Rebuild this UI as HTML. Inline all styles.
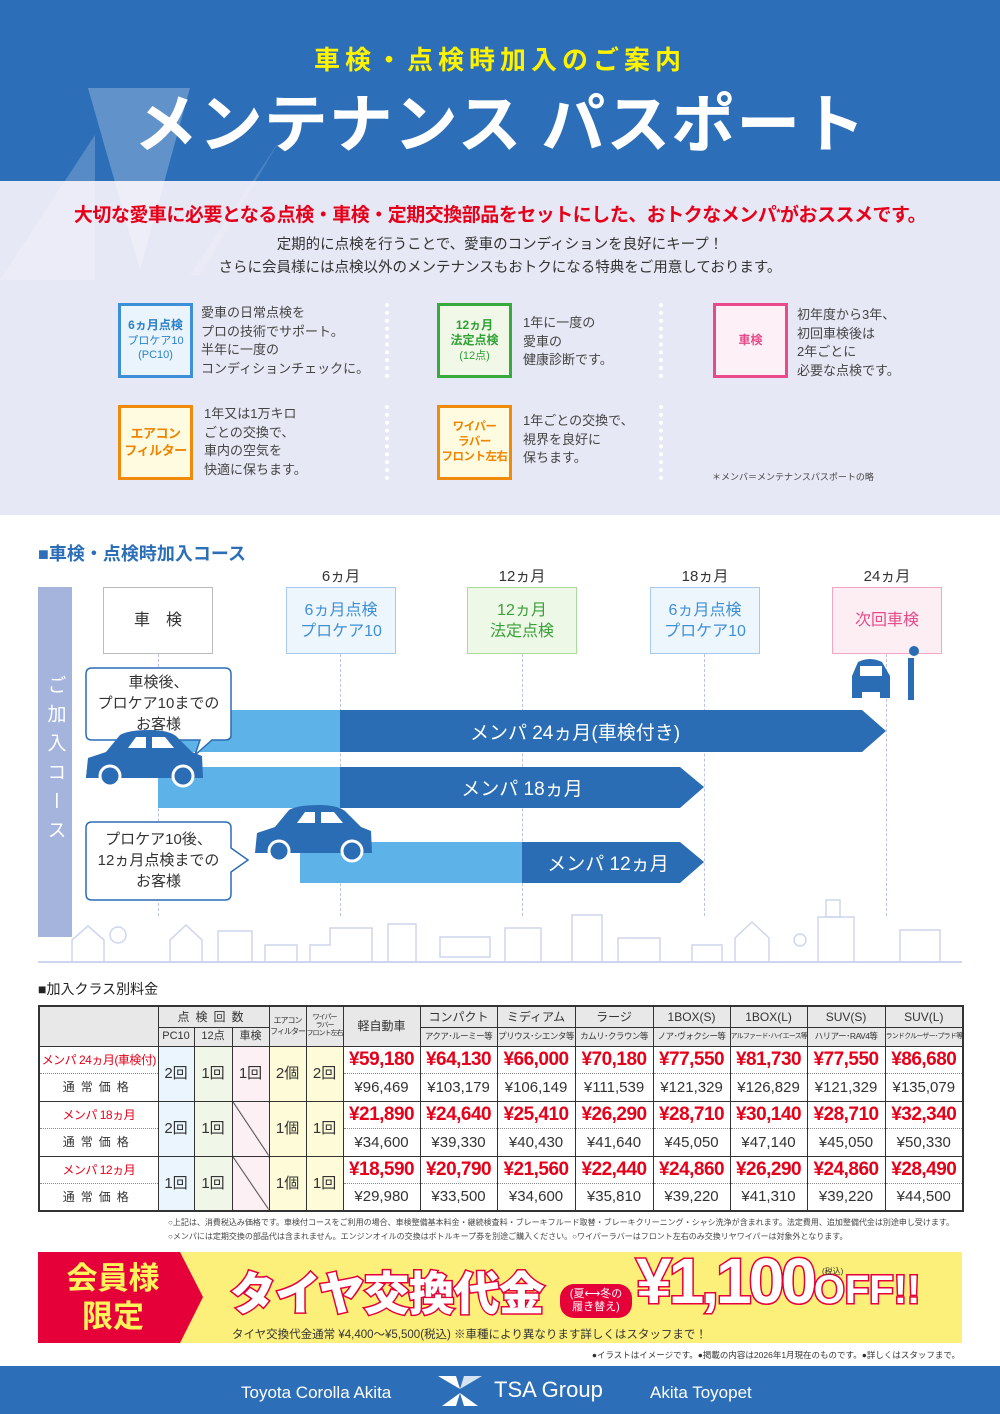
<!DOCTYPE html>
<html><head><meta charset="utf-8">
<style>
*{margin:0;padding:0;box-sizing:border-box}
body{width:1000px;height:1414px;position:relative;background:#fff;font-family:"Liberation Sans","Noto Sans CJK JP",sans-serif;color:#333;overflow:hidden}
.a{position:absolute}
.c{display:flex;align-items:center;justify-content:center;text-align:center}
.ib{position:absolute;width:75px;height:75px;border:3px solid;display:flex;align-items:center;justify-content:center;text-align:center;font-weight:bold;font-size:12px;line-height:1.3;white-space:nowrap;flex-direction:column}
.it{position:absolute;font-size:13px;line-height:18.5px;color:#444;white-space:nowrap}
.dots{position:absolute;width:0;border-left:4px dotted #fff}
.mb{position:absolute;top:587px;width:110px;height:67px;border:1.5px solid;font-size:16px;line-height:21px}
.ml{position:absolute;top:565px;width:110px;text-align:center;font-size:15px;color:#333}
.dl{position:absolute;top:654px;height:262px;border-left:1px dashed #b8c4e0}
table{border-collapse:collapse;position:absolute;left:38px;top:1005px;width:924px;table-layout:fixed;border:2.5px solid #333}
td{border:1.5px solid #333;text-align:center;padding:0;font-size:11px;white-space:nowrap;overflow:hidden;line-height:1}
.hd{background:#e8e8e8;color:#333}
.pr{color:#e60019;font-weight:bold;font-size:19px;border-bottom:1px dotted #888;letter-spacing:-0.5px}
.np{font-size:15px;color:#333;border-top:1px dotted #888}
.lab1{color:#e60019;font-size:12px;letter-spacing:-0.5px;border-bottom:1px dotted #888}
.lab2{font-size:12px;letter-spacing:6px;border-top:1px dotted #888}
.cnt{font-size:15px}
.r1{height:27px}.r2{height:28px}
</style></head><body>

<div class="a" style="left:0;top:0;width:1000px;height:181px;background:#2c6fb8"></div>
<div class="a" style="left:0;top:181px;width:1000px;height:334px;background:#e7e8f5"></div>
<svg class="a" style="left:0;top:80px" width="300" height="200">
<polygon points="88,8 190,8 140,190" fill="#fff" opacity="0.25"/>
<polygon points="0,200 95,55 95,200" fill="#fff" opacity="0.2"/>
<polygon points="190,195 280,60 200,195" fill="#fff" opacity="0.15"/>
</svg>
<div class="a c" style="left:0;top:38px;width:1000px;height:40px;color:#fff200;font-size:26px;font-weight:bold;letter-spacing:5px">車検・点検時加入のご案内</div>
<div class="a c" style="left:0;top:80px;width:1000px;height:80px;color:#fff;font-size:64px;font-weight:bold;letter-spacing:1px">メンテナンス パスポート</div>
<div class="a c" style="left:0;top:199px;width:1000px;height:28px;color:#e60019;font-size:19px;font-weight:bold;letter-spacing:-0.5px">大切な愛車に必要となる点検・車検・定期交換部品をセットにした、おトクなメンパ<sup style="font-size:11px">*</sup>がおススメです。</div>
<div class="a" style="left:0;top:234px;width:1000px;text-align:center;font-size:14.5px;line-height:23px;color:#333">定期的に点検を行うことで、愛車のコンディションを良好にキープ！<br>さらに会員様には点検以外のメンテナンスもおトクになる特典をご用意しております。</div>

<div class="ib" style="left:118px;top:303px;border-color:#3d8fd8;background:#eaf4fc;color:#2c80c8"><div>6ヵ月点検</div><div style="font-weight:normal;font-size:11px">プロケア10<br>(PC10)</div></div>
<div class="it" style="left:201px;top:304px">愛車の日常点検を<br>プロの技術でサポート。<br>半年に一度の<br>コンディションチェックに。</div>
<div class="ib" style="left:437px;top:303px;border-color:#36aa3c;background:#f1f8e8;color:#2fa035"><div>12ヵ月<br>法定点検</div><div style="font-weight:normal;font-size:11px">(12点)</div></div>
<div class="it" style="left:523px;top:314px">1年に一度の<br>愛車の<br>健康診断です。</div>
<div class="ib" style="left:713px;top:303px;border-color:#e84a8a;background:#fdf0f6;color:#e64a8a">車検</div>
<div class="it" style="left:797px;top:306px">初年度から3年、<br>初回車検後は<br>2年ごとに<br>必要な点検です。</div>
<div class="ib" style="left:118px;top:405px;border-color:#f08a0a;background:#fffbe0;color:#ef8400;font-size:13px;letter-spacing:-0.5px">エアコン<br>フィルター</div>
<div class="it" style="left:204px;top:405px">1年又は1万キロ<br>ごとの交換で、<br>車内の空気を<br>快適に保ちます。</div>
<div class="ib" style="left:437px;top:405px;border-color:#f08a0a;background:#fffbe0;color:#ef8400;font-size:11.5px;letter-spacing:-0.5px">ワイパー<br>ラバー<br>フロント左右</div>
<div class="it" style="left:523px;top:412px">1年ごとの交換で、<br>視界を良好に<br>保ちます。</div>
<div class="dots" style="left:385px;top:303px;height:75px"></div>
<div class="dots" style="left:385px;top:405px;height:75px"></div>
<div class="dots" style="left:659px;top:303px;height:75px"></div>
<div class="dots" style="left:659px;top:405px;height:75px"></div>
<div class="a" style="left:712px;top:470px;font-size:9px;color:#444">＊メンバ＝メンテナンスパスポートの略</div>

<div class="a" style="left:38px;top:540px;font-size:18px;font-weight:bold;color:#2c6fb8">■車検・点検時加入コース</div>
<div class="a c" style="left:38px;top:587px;width:34px;height:350px;background:#a4b4dc;color:#fff;font-size:19px;writing-mode:vertical-rl;letter-spacing:10px">ご加入コース</div>
<div class="ml" style="left:286px">6ヵ月</div>
<div class="ml" style="left:467px">12ヵ月</div>
<div class="ml" style="left:650px">18ヵ月</div>
<div class="ml" style="left:832px">24ヵ月</div>
<div class="dl" style="left:158px"></div><div class="dl" style="left:340px"></div><div class="dl" style="left:522px"></div><div class="dl" style="left:704px"></div><div class="dl" style="left:886px"></div>
<div class="mb c" style="left:103px;border-color:#bbb;background:#fff;color:#333">車　検</div>
<div class="mb c" style="left:286px;border-color:#a8c8ec;background:#eef6fd;color:#3f8fd6">6ヵ月点検<br>プロケア10</div>
<div class="mb c" style="left:467px;border-color:#a8dc98;background:#eef8e6;color:#3aa03a">12ヵ月<br>法定点検</div>
<div class="mb c" style="left:650px;border-color:#a8c8ec;background:#eef6fd;color:#3f8fd6">6ヵ月点検<br>プロケア10</div>
<div class="mb c" style="left:832px;border-color:#f3a6c4;background:#fdeef4;color:#e64a8a">次回車検</div>

<svg class="a" style="left:0;top:0" width="1000" height="1000">
<rect x="158" y="710" width="182" height="42" fill="#5db3e8"/>
<polygon points="340,710 862,710 886,731 862,752 340,752" fill="#2a6db5"/>
<rect x="158" y="767" width="182" height="41" fill="#5db3e8"/>
<polygon points="340,767 680,767 704,787 680,808 340,808" fill="#2a6db5"/>
<rect x="300" y="842" width="222" height="41" fill="#5db3e8"/>
<polygon points="522,842 680,842 704,862 680,883 522,883" fill="#2a6db5"/>
<text x="575" y="739" font-size="19" fill="#fff" text-anchor="middle" font-family="Liberation Sans,Noto Sans CJK JP,sans-serif">メンパ 24ヵ月(車検付き)</text>
<text x="522" y="795" font-size="19" fill="#fff" text-anchor="middle" font-family="Liberation Sans,Noto Sans CJK JP,sans-serif">メンパ 18ヵ月</text>
<text x="608" y="870" font-size="19" fill="#fff" text-anchor="middle" font-family="Liberation Sans,Noto Sans CJK JP,sans-serif">メンパ 12ヵ月</text>
<path d="M92,668 H225 Q231,668 231,674 V735 Q231,740 225,740 H212 L195,755 L200,740 H92 Q86,740 86,734 V674 Q86,668 92,668Z" fill="#fff" stroke="#2a6db5" stroke-width="1.5"/>
<path d="M92,822 H225 Q231,822 231,828 V848 L248,860 L231,872 V894 Q231,900 225,900 H92 Q86,900 86,894 V828 Q86,822 92,822Z" fill="#fff" stroke="#2a6db5" stroke-width="1.5"/>
<g fill="#2a6db5">
<path d="M86,778 L88,760 L108,752 L122,736 Q130,746 150,746 Q168,746 176,752 L190,760 L202,764 L203,778 Z"/>
<path d="M86,778 L88,758 L106,752 L120,735 Q128,730 150,730 Q168,730 176,736 L192,752 L202,756 L203,778 Z"/>
<path d="M255,853 L257,833 L275,827 L289,810 Q297,805 319,805 Q337,805 345,811 L361,827 L371,831 L372,853 Z"/>
<path d="M852,698 V676 L858,662 Q870,656 882,662 L890,676 V698 H880 V692 H862 V698Z"/>
<rect x="908" y="658" width="6" height="42"/>
<circle cx="914" cy="651" r="5"/>
</g>
<g fill="#fff"><path d="M128,748 L136,737 H146 V748Z"/><path d="M152,737 H165 L174,748 H152Z"/>
<path d="M297,823 L305,812 H315 V823Z"/><path d="M321,812 H334 L343,823 H321Z"/>
<rect x="860" y="666" width="22" height="10"/></g>
<g fill="#2a6db5" stroke="#fff" stroke-width="3"><circle cx="110" cy="776" r="10"/><circle cx="183" cy="776" r="10"/><circle cx="279" cy="851" r="10"/><circle cx="352" cy="851" r="10"/></g>
<g fill="none" stroke="#cdd6ee" stroke-width="1.5">
<path d="M72,962 V940 L88,926 L104,940 V962"/><path d="M170,962 V940 L186,925 L202,940 V962"/>
<rect x="218" y="931" width="34" height="31"/><rect x="265" y="945" width="32" height="17"/>
<path d="M310,962 V945 H330 V928 H372 V962"/><rect x="388" y="924" width="28" height="38"/>
<rect x="440" y="937" width="50" height="20"/><rect x="505" y="928" width="36" height="34"/>
<rect x="572" y="915" width="30" height="47"/><path d="M618,962 V938 H660 V962"/>
<rect x="692" y="945" width="30" height="17"/><path d="M735,962 V938 L752,922 L769,938 V962"/>
<rect x="818" y="917" width="36" height="45"/><rect x="826" y="900" width="14" height="17"/>
<rect x="900" y="930" width="40" height="32"/><circle cx="118" cy="935" r="8"/><circle cx="800" cy="940" r="6"/>
</g>
<line x1="38" y1="962" x2="962" y2="962" stroke="#cdd6ee" stroke-width="2"/>
</svg>
<div class="a" style="left:86px;top:672px;width:145px;text-align:center;font-size:15px;line-height:21px;color:#333">車検後、<br>プロケア10までの<br>お客様</div>
<div class="a" style="left:86px;top:829px;width:145px;text-align:center;font-size:15px;line-height:21px;color:#333">プロケア10後、<br>12ヵ月点検までの<br>お客様</div>

<div class="a" style="left:38px;top:979px;font-size:14px;color:#222">■加入クラス別料金</div>
<table>
<colgroup><col style="width:119px"><col style="width:36px"><col style="width:38px"><col style="width:37px"><col style="width:37px"><col style="width:37px"><col style="width:77px"><col style="width:77px"><col style="width:78px"><col style="width:78px"><col style="width:77px"><col style="width:77px"><col style="width:78px"><col style="width:78px"></colgroup>
<tr style="height:21px"><td class="hd" rowspan="2"></td><td class="hd" colspan="3" style="font-size:12px;letter-spacing:6px">点検回数</td><td class="hd" rowspan="2" style="font-size:8px;line-height:11px;letter-spacing:-1px">エアコン<br>フィルター</td><td class="hd" rowspan="2" style="font-size:7px;line-height:8px;letter-spacing:-1px">ワイパー<br>ラバー<br>フロント左右</td><td class="hd" rowspan="2" style="font-size:12px">軽自動車</td><td class="hd" style="font-size:12px">コンパクト</td><td class="hd" style="font-size:12px">ミディアム</td><td class="hd" style="font-size:12px">ラージ</td><td class="hd" style="font-size:12px">1BOX(S)</td><td class="hd" style="font-size:12px">1BOX(L)</td><td class="hd" style="font-size:12px">SUV(S)</td><td class="hd" style="font-size:12px">SUV(L)</td></tr>
<tr style="height:19px"><td class="hd">PC10</td><td class="hd">12点</td><td class="hd">車検</td><td class="hd" style="font-size:8.5px;letter-spacing:-0.5px">アクア･ルーミー等</td><td class="hd" style="font-size:8.5px;letter-spacing:-0.5px">プリウス･シエンタ等</td><td class="hd" style="font-size:8.5px;letter-spacing:-0.5px">カムリ･クラウン等</td><td class="hd" style="font-size:8.5px;letter-spacing:-0.5px">ノア･ヴォクシー等</td><td class="hd" style="font-size:7px;letter-spacing:-0.8px">アルファード･ハイエース等</td><td class="hd" style="font-size:8.5px;letter-spacing:-0.5px">ハリアー･RAV4等</td><td class="hd" style="font-size:7px;letter-spacing:-0.8px">ランドクルーザー･プラド等</td></tr>
<tr class="r1"><td class="lab1">メンパ 24ヵ月(車検付)</td><td rowspan="2" class="cnt" style="background:#eaf5fd">2回</td><td rowspan="2" class="cnt" style="background:#f1f7e8">1回</td><td rowspan="2" class="cnt" style="background:#fdf0f5">1回</td><td rowspan="2" class="cnt" style="background:#fdfbd8">2個</td><td rowspan="2" class="cnt" style="background:#fdfbd8">2回</td><td class="pr">¥59,180</td><td class="pr">¥64,130</td><td class="pr">¥66,000</td><td class="pr">¥70,180</td><td class="pr">¥77,550</td><td class="pr">¥81,730</td><td class="pr">¥77,550</td><td class="pr">¥86,680</td></tr>
<tr class="r2"><td class="lab2">通常価格</td><td class="np">¥96,469</td><td class="np">¥103,179</td><td class="np">¥106,149</td><td class="np">¥111,539</td><td class="np">¥121,329</td><td class="np">¥126,829</td><td class="np">¥121,329</td><td class="np">¥135,079</td></tr>
<tr class="r1"><td class="lab1">メンパ 18ヵ月</td><td rowspan="2" class="cnt" style="background:#eaf5fd">2回</td><td rowspan="2" class="cnt" style="background:#f1f7e8">1回</td><td rowspan="2" style="background:linear-gradient(to top right,#fdf0f5 49%,#333 50%,#fdf0f5 52%)"></td><td rowspan="2" class="cnt" style="background:#fdfbd8">1個</td><td rowspan="2" class="cnt" style="background:#fdfbd8">1回</td><td class="pr">¥21,890</td><td class="pr">¥24,640</td><td class="pr">¥25,410</td><td class="pr">¥26,290</td><td class="pr">¥28,710</td><td class="pr">¥30,140</td><td class="pr">¥28,710</td><td class="pr">¥32,340</td></tr>
<tr class="r2"><td class="lab2">通常価格</td><td class="np">¥34,600</td><td class="np">¥39,330</td><td class="np">¥40,430</td><td class="np">¥41,640</td><td class="np">¥45,050</td><td class="np">¥47,140</td><td class="np">¥45,050</td><td class="np">¥50,330</td></tr>
<tr class="r1"><td class="lab1">メンパ 12ヵ月</td><td rowspan="2" class="cnt" style="background:#eaf5fd">1回</td><td rowspan="2" class="cnt" style="background:#f1f7e8">1回</td><td rowspan="2" style="background:linear-gradient(to top right,#fdf0f5 49%,#333 50%,#fdf0f5 52%)"></td><td rowspan="2" class="cnt" style="background:#fdfbd8">1個</td><td rowspan="2" class="cnt" style="background:#fdfbd8">1回</td><td class="pr">¥18,590</td><td class="pr">¥20,790</td><td class="pr">¥21,560</td><td class="pr">¥22,440</td><td class="pr">¥24,860</td><td class="pr">¥26,290</td><td class="pr">¥24,860</td><td class="pr">¥28,490</td></tr>
<tr class="r2"><td class="lab2">通常価格</td><td class="np">¥29,980</td><td class="np">¥33,500</td><td class="np">¥34,600</td><td class="np">¥35,810</td><td class="np">¥39,220</td><td class="np">¥41,310</td><td class="np">¥39,220</td><td class="np">¥44,500</td></tr>
</table>
<div class="a" style="left:168px;top:1216px;width:800px;font-size:8px;line-height:14px;color:#444;white-space:nowrap">○上記は、消費税込み価格です。車検付コースをご利用の場合、車検整備基本料金・継続検査料・ブレーキフルード取替・ブレーキクリーニング・シャシ洗浄が含まれます。法定費用、追加整備代金は別途申し受けます。<br>○メンパには定期交換の部品代は含まれません。エンジンオイルの交換はボトルキープ券を別途ご購入ください。○ワイパーラバーはフロント左右のみ交換リヤワイパーは対象外となります。</div>

<div class="a" style="left:38px;top:1252px;width:924px;height:91px;background:#fcf07a"></div>
<svg class="a" style="left:38px;top:1252px" width="170" height="91"><polygon points="0,0 142,0 165,45 142,91 0,91" fill="#e60039"/></svg>
<div class="a c" style="left:38px;top:1256px;width:150px;height:84px;color:#fff35c;font-size:31px;font-weight:bold;line-height:38px">会員様<br>限定</div>
<div class="a" style="left:230px;top:1258px;font-size:46px;font-weight:900;color:#fff;-webkit-text-stroke:3px #e60039;paint-order:stroke fill;letter-spacing:-1px;white-space:nowrap">タイヤ交換代金</div>
<div class="a c" style="left:560px;top:1284px;width:72px;height:34px;background:#e60039;border-radius:14px;color:#fff;font-size:11px;line-height:13px">(夏⟷冬の<br>履き替え)</div>
<div class="a" style="left:636px;top:1244px;font-size:64px;font-weight:900;color:#fff;-webkit-text-stroke:3px #e60039;paint-order:stroke fill;white-space:nowrap;letter-spacing:-3px">¥1,100<span style="font-size:40px;letter-spacing:0">OFF!!</span></div>
<div class="a" style="left:822px;top:1266px;font-size:8px;color:#333">(税込)</div>
<div class="a" style="left:232px;top:1326px;font-size:11.5px;color:#333;white-space:nowrap">タイヤ交換代金通常 ¥4,400〜¥5,500(税込) ※車種により異なります詳しくはスタッフまで！</div>
<div class="a" style="right:40px;top:1349px;font-size:8.5px;color:#333;white-space:nowrap">●イラストはイメージです。●掲載の内容は2026年1月現在のものです。●詳しくはスタッフまで。</div>

<div class="a" style="left:0;top:1366px;width:1000px;height:48px;background:#2c6fb8"></div>
<div class="a" style="left:241px;top:1383px;font-size:17px;color:#fff">Toyota Corolla Akita</div>
<svg class="a" style="left:438px;top:1376px" width="44" height="30"><polygon points="0,0 18,0 22,13" fill="#fff"/><polygon points="44,0 26,0 22,13" fill="#fff" opacity=".8"/><polygon points="4,30 18,30 22,17" fill="#fff"/><polygon points="40,30 26,30 22,17" fill="#fff"/></svg>
<div class="a" style="left:494px;top:1377px;font-size:22px;color:#fff">TSA Group</div>
<div class="a" style="left:650px;top:1383px;font-size:17px;color:#fff">Akita Toyopet</div>
</body></html>
